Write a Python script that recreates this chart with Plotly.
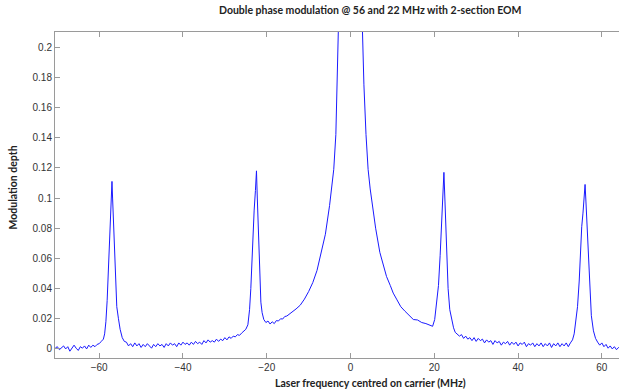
import plotly.graph_objects as go

# ---- data (MHz, modulation depth) ----
freq_base_left = [-70.5, -70.0, -69.5, -69.0, -68.5, -68.0, -67.5, -67.0, -66.5, -66.0, -65.5, -65.0,
                  -64.5, -64.0, -63.5, -63.0, -62.5, -62.0, -61.5, -61.0, -60.5, -60.0, -59.5]
depth_base_left = [0.0005, 0.0015, -0.0005, 0.001, 0.002, 0.0, 0.0015, -0.0015, 0.001, 0.0025, 0.0005, -0.001,
                   0.0015, 0.0005, 0.002, 0.0, 0.0025, 0.001, 0.0025, 0.0015, 0.003, 0.0035, 0.005]

freq_peak_m56 = [-59.0, -58.7, -58.4, -58.1, -57.8, -57.5, -57.3, -57.1, -56.95, -56.8, -56.6, -56.4,
                 -56.1, -55.8, -55.4, -55.0, -54.5, -54.0]
depth_peak_m56 = [0.0065, 0.010, 0.018, 0.032, 0.055, 0.080, 0.087, 0.100, 0.111, 0.100, 0.085, 0.065,
                  0.042, 0.028, 0.020, 0.013, 0.0075, 0.005]

freq_base_mid_left = [-53.5, -53.0, -52.5, -52.0, -51.5, -51.0, -50.5, -50.0, -49.5, -49.0, -48.5, -48.0,
                      -47.5, -47.0, -46.5, -46.0, -45.5, -45.0, -44.5, -44.0, -43.5, -43.0, -42.5, -42.0,
                      -41.5, -41.0, -40.5, -40.0, -39.5, -39.0, -38.5, -38.0, -37.5, -37.0, -36.5, -36.0,
                      -35.5, -35.0, -34.5, -34.0, -33.5, -33.0, -32.5, -32.0, -31.5, -31.0, -30.5, -30.0,
                      -29.5, -29.0, -28.5, -28.0, -27.5, -27.0, -26.5, -26.0, -25.5, -25.0]
depth_base_mid_left = [0.0045, 0.002, 0.0035, 0.0015, 0.004, 0.002, 0.0035, 0.001, 0.003, 0.0015, 0.0035, 0.002,
                       0.0005, 0.003, 0.0015, 0.0035, 0.002, 0.003, 0.001, 0.0035, 0.002, 0.004, 0.0025, 0.0035,
                       0.0015, 0.004, 0.0025, 0.0045, 0.003, 0.004, 0.0025, 0.0045, 0.003, 0.005, 0.0035, 0.0045,
                       0.003, 0.0055, 0.004, 0.006, 0.0045, 0.0055, 0.0045, 0.0065, 0.005, 0.0065, 0.0055, 0.0075,
                       0.006, 0.008, 0.007, 0.0085, 0.008, 0.0095, 0.009, 0.0105, 0.0115, 0.013]

freq_peak_m22 = [-24.5, -24.1, -23.8, -23.5, -23.2, -23.0, -22.7, -22.45, -22.25, -22.05, -21.8, -21.6,
                 -21.4, -21.1, -20.7, -20.2, -19.7, -19.2, -18.7, -18.2, -17.7, -17.2, -16.7, -16.2,
                 -15.7, -15.2, -14.5, -13.8]
depth_peak_m22 = [0.016, 0.026, 0.040, 0.060, 0.085, 0.092, 0.105, 0.118, 0.100, 0.081, 0.060, 0.042,
                  0.031, 0.024, 0.0195, 0.0175, 0.0185, 0.0165, 0.0180, 0.0168, 0.0188, 0.0185, 0.0200, 0.0198,
                  0.0215, 0.0218, 0.0232, 0.0245]

freq_carrier = [-13.0, -12.0, -11.0, -10.0, -9.0, -8.0, -7.0, -6.0, -5.0, -4.5, -4.0, -3.5, -3.0, -2.55,
                -2.3, -1.5, 0.0, 1.5, 2.5, 2.77, 3.2, 3.7, 4.2, 4.7, 5.3, 6.0, 7.0, 8.0, 8.6, 9.5,
                10.2, 11.0, 12.0, 13.0, 14.0, 15.0, 16.0, 17.0, 18.0, 18.9, 19.6]
depth_carrier = [0.0265, 0.029, 0.033, 0.038, 0.044, 0.052, 0.063, 0.076, 0.095, 0.106, 0.119, 0.142, 0.175, 0.21,
                 0.24, 0.35, 0.55, 0.35, 0.24, 0.21, 0.175, 0.142, 0.119, 0.106, 0.094, 0.080, 0.064, 0.053, 0.048, 0.042,
                 0.037, 0.033, 0.028, 0.025, 0.0225, 0.0195, 0.0192, 0.0175, 0.0168, 0.0160, 0.0150]

freq_peak_p22 = [20.1, 20.6, 21.0, 21.4, 21.7, 21.95, 22.3, 22.55, 22.8, 23.0, 23.3, 23.7, 24.1, 24.6, 25.0]
depth_peak_p22 = [0.0195, 0.030, 0.042, 0.062, 0.080, 0.090, 0.117, 0.098, 0.082, 0.060, 0.040, 0.026, 0.0195, 0.014, 0.011]

freq_base_mid_right = [25.5, 26.0, 26.5, 27.0, 27.5, 28.0, 28.5, 29.0, 29.5, 30.0, 30.5, 31.0, 31.5, 32.0,
                       32.5, 33.0, 33.5, 34.0, 34.5, 35.0, 35.5, 36.0, 36.5, 37.0, 37.5, 38.0, 38.5, 39.0,
                       39.5, 40.0, 40.5, 41.0, 41.5, 42.0, 42.5, 43.0, 43.5, 44.0, 44.5, 45.0, 45.5, 46.0,
                       46.5, 47.0, 47.5, 48.0, 48.5, 49.0, 49.5, 50.0, 50.5, 51.0, 51.5, 52.0, 52.5]
depth_base_mid_right = [0.0095, 0.0085, 0.0095, 0.007, 0.0085, 0.0065, 0.0075, 0.0055, 0.0075, 0.005, 0.007, 0.0055, 0.0065, 0.004,
                        0.006, 0.0045, 0.0055, 0.003, 0.0055, 0.004, 0.005, 0.0025, 0.0045, 0.0035, 0.005, 0.0025, 0.0045, 0.003,
                        0.0045, 0.002, 0.004, 0.003, 0.0045, 0.0015, 0.0035, 0.0025, 0.004, 0.0015, 0.0035, 0.002, 0.004, 0.0015,
                        0.0035, 0.002, 0.004, 0.001, 0.0035, 0.002, 0.004, 0.0015, 0.0035, 0.002, 0.004, 0.0015, 0.004]

freq_peak_p56 = [53.0, 53.4, 53.8, 54.2, 54.6, 54.9, 55.2, 55.5, 55.8, 56.0, 56.2, 56.5, 56.8, 57.1, 57.5, 58.0, 58.5]
depth_peak_p56 = [0.006, 0.010, 0.018, 0.028, 0.045, 0.065, 0.081, 0.090, 0.100, 0.109, 0.098, 0.081, 0.060, 0.038, 0.022, 0.012, 0.007]

freq_base_right = [59.0, 59.5, 60.0, 60.5, 61.0, 61.5, 62.0, 62.5, 63.0, 63.5, 64.0, 64.5]
depth_base_right = [0.0045, 0.0025, 0.004, 0.0015, 0.003, 0.0005, 0.002, 0.0, 0.0015, -0.0005, 0.001, -0.0005]

x_ticks = [-60, -40, -20, 0, 20, 40, 60]
y_ticks = [0, 0.02, 0.04, 0.06, 0.08, 0.1, 0.12, 0.14, 0.16, 0.18, 0.2]
y_tick_labels = ["0", "0.02", "0.04", "0.06", "0.08", "0.1", "0.12", "0.14", "0.16", "0.18", "0.2"]

title_text = "Double phase modulation @ 56 and 22 MHz with 2-section EOM"
x_label = "Laser frequency centred on carrier (MHz)"
y_label = "Modulation depth"

freq = (freq_base_left + freq_peak_m56 + freq_base_mid_left + freq_peak_m22 + freq_carrier
        + freq_peak_p22 + freq_base_mid_right + freq_peak_p56 + freq_base_right)
depth = (depth_base_left + depth_peak_m56 + depth_base_mid_left + depth_peak_m22 + depth_carrier
         + depth_peak_p22 + depth_base_mid_right + depth_peak_p56 + depth_base_right)

fig = go.Figure()
fig.add_trace(go.Scatter(x=freq, y=depth, mode="lines",
                         line=dict(color="#1a1aff", width=1), showlegend=False))

axis_col = "#9a9a9a"
tick_font = dict(family="Liberation Sans, Arial, sans-serif", size=10, color="#333333")
lab_font = dict(family="Lato, Liberation Sans, sans-serif", size=10.5, color="#222222")

fig.update_layout(
    width=619, height=391,
    margin=dict(l=55, r=0, t=32, b=33, autoexpand=False),
    plot_bgcolor="white", paper_bgcolor="white",
    xaxis=dict(range=[-70.55, 64.1], tickvals=x_ticks, ticks="inside", ticklen=5,
               tickcolor=axis_col, showline=True, linecolor=axis_col, linewidth=1,
               mirror="ticks", showgrid=False, zeroline=False, tickfont=tick_font,
               automargin=False),
    yaxis=dict(range=[-0.006, 0.21], tickvals=y_ticks, ticktext=y_tick_labels,
               ticks="inside", ticklen=5, tickcolor=axis_col, showline=True,
               linecolor=axis_col, linewidth=1, showgrid=False, zeroline=False,
               tickfont=tick_font, automargin=False),
    annotations=[
        dict(text="<b>" + title_text + "</b>", xref="paper", yref="paper", x=0.56, y=1.068,
             xanchor="center", yanchor="middle", showarrow=False, font=lab_font),
        dict(text="<b>" + x_label + "</b>", xref="paper", yref="paper", x=0.56, y=-0.076,
             xanchor="center", yanchor="middle", showarrow=False, font=lab_font),
        dict(text="<b>" + y_label + "</b>", xref="paper", yref="paper", x=-0.075, y=0.522,
             xanchor="center", yanchor="middle", showarrow=False, textangle=-90, font=lab_font),
    ],
)

fig.write_html("out.html", config={"displayModeBar": False},
               post_script="document.body.style.margin='0px';document.body.style.overflow='hidden';")
